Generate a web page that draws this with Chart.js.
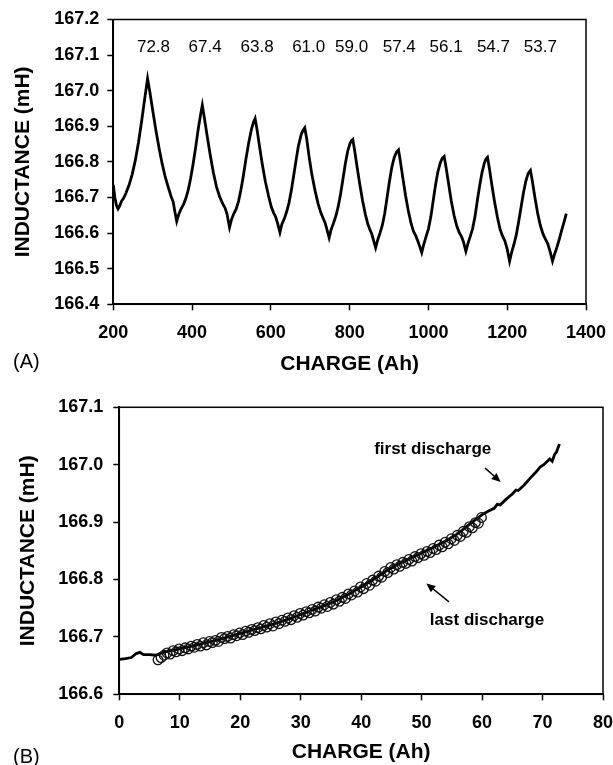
<!DOCTYPE html>
<html><head><meta charset="utf-8">
<script src="https://cdn.jsdelivr.net/npm/chart.js@4.4.0/dist/chart.umd.min.js"></script>
<style>
html,body{margin:0;padding:0;background:#fff;width:613px;height:765px;overflow:hidden}
canvas{position:absolute;left:0}
#c1{top:0}
#c2{top:390px}
.panel{position:absolute;left:13px;font:20px/20px "Liberation Sans",Arial,sans-serif;color:#000}
</style></head><body>
<canvas id="c1" width="613" height="390" style="width:613px;height:390px"></canvas>
<canvas id="c2" width="613" height="375" style="width:613px;height:375px"></canvas>
<div class="panel" style="top:351px">(A)</div>
<div class="panel" style="top:746px">(B)</div>
<script>
// ---------- Panel A data ----------
const topXTicks = [200, 400, 600, 800, 1000, 1200, 1400];
const topYTicks = [166.4, 166.5, 166.6, 166.7, 166.8, 166.9, 167.0, 167.1, 167.2];
const topTrace = [
  [200,166.735],[204,166.700],[208,166.678],[212,166.668],[216,166.676],[221,166.690],[226,166.698],[232,166.712],
  [240,166.735],[248,166.765],[256,166.805],[264,166.855],[272,166.915],[280,166.980],[287,167.034],
  [293,166.995],[300,166.945],[308,166.890],[316,166.840],[324,166.795],[332,166.757],[340,166.727],[347,166.702],
  [352,166.688],[356,166.662],[361,166.633],
  [366,166.652],[372,166.668],[378,166.680],[384,166.697],[390,166.720],[396,166.752],[402,166.790],[409,166.840],
  [416,166.895],[422,166.935],[426,166.959],
  [431,166.925],[438,166.875],[446,166.820],[454,166.770],[462,166.730],[470,166.702],[478,166.682],[484,166.670],
  [489,166.652],[495,166.616],
  [500,166.638],[506,166.655],[512,166.668],[518,166.690],[524,166.722],[530,166.760],[537,166.810],[544,166.855],
  [551,166.893],[556,166.912],[560,166.922],
  [565,166.890],[571,166.845],[578,166.795],[586,166.745],[594,166.705],[601,166.674],[607,166.657],[612,166.646],
  [617,166.628],[623,166.602],
  [628,166.625],[634,166.640],[640,166.660],[646,166.685],[652,166.720],[658,166.762],[664,166.805],[670,166.845],
  [677,166.877],[682,166.890],[686,166.896],
  [691,166.865],[697,166.815],[704,166.765],[712,166.720],[720,166.682],[727,166.657],[733,166.641],[738,166.628],
  [743,166.608],[748,166.587],
  [753,166.610],[759,166.628],[765,166.648],[771,166.675],[777,166.710],[783,166.752],[789,166.795],[795,166.830],
  [801,166.852],[805,166.860],[808,166.863],
  [813,166.830],[819,166.785],[826,166.735],[833,166.690],[840,166.652],[846,166.626],[851,166.611],[856,166.598],
  [861,166.578],[866,166.559],
  [871,166.580],[877,166.600],[883,166.622],[889,166.655],[895,166.700],[901,166.745],[907,166.785],[913,166.812],
  [919,166.828],[924,166.834],
  [929,166.800],[935,166.755],[942,166.705],[949,166.662],[956,166.627],[962,166.605],[968,166.592],[973,166.578],
  [978,166.562],[983,166.545],
  [988,166.568],[994,166.590],[1000,166.612],[1006,166.645],[1012,166.690],[1018,166.735],[1024,166.772],[1030,166.797],
  [1035,166.810],[1040,166.815],
  [1045,166.783],[1051,166.740],[1058,166.690],[1065,166.650],[1072,166.620],[1078,166.602],[1084,166.590],[1089,166.575],
  [1095,166.549],
  [1100,166.570],[1106,166.590],[1112,166.612],[1118,166.645],[1124,166.690],[1130,166.733],[1136,166.770],[1142,166.797],
  [1146,166.808],[1150,166.813],
  [1155,166.780],[1161,166.735],[1168,166.687],[1175,166.645],[1182,166.610],[1188,166.592],[1194,166.578],[1200,166.555],
  [1206,166.521],
  [1211,166.545],[1217,166.568],[1223,166.595],[1229,166.632],[1235,166.672],[1241,166.712],[1247,166.745],[1253,166.767],
  [1259,166.776],
  [1264,166.745],[1270,166.702],[1277,166.657],[1284,166.622],[1291,166.597],[1297,166.583],[1303,166.570],[1309,166.548],
  [1315,166.521],
  [1320,166.540],[1326,166.560],[1332,166.582],[1338,166.607],[1344,166.630],[1350,166.655]
];
const peakLabels = ['72.8', '67.4', '63.8', '61.0', '59.0', '57.4', '56.1', '54.7', '53.7'];
const peakLabelX = [302, 433, 565, 696, 805, 926, 1045, 1165, 1284];
const peakLabelY = 167.121;

// ---------- Panel B data ----------
const botXTicks = [0, 10, 20, 30, 40, 50, 60, 70, 80];
const botYTicks = [166.6, 166.7, 166.8, 166.9, 167.0, 167.1];
const firstDischarge = [
  [0,166.661],[1,166.662],[2,166.664],[2.8,166.671],[3.4,166.673],[4.0,166.669],[5.0,166.669],[6.0,166.668],
  [7.0,166.672],[8.0,166.675],[9.0,166.677],[10,166.679],[12,166.684],[14,166.689],[16,166.694],[18,166.700],
  [20,166.706],[22,166.712],[24,166.718],[26,166.724],[28,166.731],[30,166.739],[32,166.747],[34,166.755],
  [36,166.764],[38,166.775],[40,166.787],[42,166.800],[44,166.814],[46,166.826],[48,166.836],[50,166.846],
  [52,166.856],[54,166.867],[56,166.880],[58,166.897],[60,166.913],[61,166.919],[62,166.924],[62.5,166.931],
  [63,166.930],[64,166.940],[65,166.949],[65.6,166.956],[66,166.955],[67,166.965],[68,166.977],[69,166.988],
  [69.6,166.996],[70.2,167.000],[70.8,167.006],[71.2,167.010],[71.6,167.006],[72.0,167.018],[72.3,167.022],[72.8,167.036]
];
const lastDischarge = [
  [6.4,166.660],[6.9,166.664],[7.4,166.668],[7.9,166.672],[8.4,166.670],[8.9,166.676],[9.4,166.674],[9.9,166.679],
  [10.4,166.676],[10.9,166.681],[11.4,166.679],[11.9,166.684],[12.4,166.682],[12.9,166.687],[13.4,166.684],[13.9,166.690],
  [14.4,166.686],[14.9,166.692],[15.4,166.690],[15.9,166.694],[16.4,166.692],[16.9,166.699],[17.4,166.697],[17.9,166.701],
  [18.4,166.698],[18.9,166.704],[19.4,166.702],[19.9,166.707],[20.4,166.704],[20.9,166.710],[21.4,166.708],[21.9,166.713],
  [22.4,166.711],[22.9,166.716],[23.4,166.714],[23.9,166.720],[24.4,166.717],[24.9,166.723],[25.4,166.719],[25.9,166.726],
  [26.4,166.723],[26.9,166.729],[27.4,166.727],[27.9,166.733],[28.4,166.730],[28.9,166.737],[29.4,166.734],[29.9,166.741],
  [30.4,166.738],[30.9,166.744],[31.4,166.742],[31.9,166.748],[32.4,166.745],[32.9,166.752],[33.4,166.750],[33.9,166.756],
  [34.4,166.753],[34.9,166.760],[35.4,166.757],[35.9,166.765],[36.4,166.762],[36.9,166.769],[37.4,166.767],[37.9,166.775],
  [38.4,166.773],[38.9,166.780],[39.4,166.778],[39.9,166.787],[40.4,166.784],[40.9,166.793],[41.4,166.790],[41.9,166.799],
  [42.4,166.797],[42.9,166.806],[43.4,166.804],[43.9,166.814],[44.4,166.812],[44.9,166.821],[45.4,166.818],[45.9,166.826],
  [46.4,166.823],[46.9,166.830],[47.4,166.828],[47.9,166.835],[48.4,166.832],[48.9,166.840],[49.4,166.838],[49.9,166.845],
  [50.4,166.842],[50.9,166.849],[51.4,166.847],[51.9,166.854],[52.4,166.852],[52.9,166.860],[53.4,166.857],[53.9,166.865],
  [54.4,166.862],[54.9,166.871],[55.4,166.868],[55.9,166.877],[56.4,166.875],[56.9,166.884],[57.4,166.882],[57.9,166.892],
  [58.4,166.890],[58.9,166.899],[59.4,166.898],[59.9,166.908]
];
const noteTexts = ['first discharge', 'last discharge'];
const noteX = [51.84, 60.82];
const noteY = [167.027, 166.729];
const arrowFrom = [[60.5, 166.994], [54.53, 166.761]];
const arrowTo = [[63.07, 166.970], [50.78, 166.793]];

// ---------- rendering ----------
const FONT = '"Liberation Sans", Arial, Helvetica, sans-serif';
Chart.defaults.font.family = FONT;
Chart.defaults.color = '#000';

const toPts = arr => arr.map(p => ({x: p[0], y: p[1]}));

function makeScales(cfg) {
  return {
    x: {
      type: 'linear', min: cfg.xTicks[0], max: cfg.xTicks[cfg.xTicks.length - 1],
      afterBuildTicks: s => { s.ticks = cfg.xTicks.map(v => ({value: v})); },
      afterFit: s => { s.height = cfg.xHeight; s.paddingLeft = 0; s.paddingRight = 0; },
      border: {display: true, color: '#000', width: 2},
      grid: {display: true, drawOnChartArea: false, drawTicks: true, tickLength: 6, tickWidth: 1.5, tickColor: '#000', color: '#000'},
      ticks: {padding: 12, autoSkip: false, maxRotation: 0, color: '#000', font: {size: 18, weight: 'bold'}, callback: v => String(v)},
      title: {display: true, text: 'CHARGE (Ah)', color: '#000', font: {size: 21, weight: 'bold'}, padding: {top: 0, bottom: cfg.xTitlePad}}
    },
    y: {
      type: 'linear', min: cfg.yTicks[0], max: cfg.yTicks[cfg.yTicks.length - 1],
      afterBuildTicks: s => { s.ticks = cfg.yTicks.map(v => ({value: v})); },
      afterFit: s => { s.width = cfg.yWidth; s.paddingTop = 0; s.paddingBottom = 0; },
      border: {display: true, color: '#000', width: 2},
      grid: {display: true, drawOnChartArea: false, drawTicks: true, tickLength: 6, tickWidth: 1.5, tickColor: '#000', color: '#000'},
      ticks: {padding: cfg.yTickPad, autoSkip: false, color: '#000', font: {size: 18, weight: 'bold'}, callback: v => v.toFixed(1)},
      title: {display: true, text: 'INDUCTANCE (mH)', color: '#000', font: {size: 21, weight: 'bold'}, padding: {top: cfg.yTitlePad, bottom: 0}}
    }
  };
}

const framePlugin = {
  id: 'frame',
  afterDatasetsDraw(chart) {
    const {ctx, chartArea: a} = chart;
    ctx.save();
    ctx.strokeStyle = '#000';
    ctx.lineWidth = 1.5;
    ctx.strokeRect(a.left, a.top, a.right - a.left, a.bottom - a.top);
    ctx.restore();
  }
};

const peakLabelPlugin = {
  id: 'peakLabels',
  afterDatasetsDraw(chart) {
    const {ctx, scales: {x, y}} = chart;
    ctx.save();
    ctx.font = '17px ' + FONT;
    ctx.fillStyle = '#000';
    ctx.textAlign = 'center';
    ctx.textBaseline = 'middle';
    peakLabels.forEach((t, i) => ctx.fillText(t, x.getPixelForValue(peakLabelX[i]), y.getPixelForValue(peakLabelY)));
    ctx.restore();
  }
};

const notePlugin = {
  id: 'notes',
  afterDatasetsDraw(chart) {
    const {ctx, scales: {x, y}} = chart;
    ctx.save();
    ctx.font = 'bold 17px ' + FONT;
    ctx.fillStyle = '#000';
    ctx.textAlign = 'center';
    ctx.textBaseline = 'middle';
    noteTexts.forEach((t, i) => ctx.fillText(t, x.getPixelForValue(noteX[i]), y.getPixelForValue(noteY[i])));
    ctx.strokeStyle = '#000';
    ctx.lineWidth = 1.4;
    arrowFrom.forEach((f, i) => {
      const x1 = x.getPixelForValue(f[0]), y1 = y.getPixelForValue(f[1]);
      const x2 = x.getPixelForValue(arrowTo[i][0]), y2 = y.getPixelForValue(arrowTo[i][1]);
      const ang = Math.atan2(y2 - y1, x2 - x1);
      const L = 9, W = 4;
      ctx.beginPath();
      ctx.moveTo(x1, y1);
      ctx.lineTo(x2 - Math.cos(ang) * L * 0.6, y2 - Math.sin(ang) * L * 0.6);
      ctx.stroke();
      ctx.beginPath();
      ctx.moveTo(x2, y2);
      ctx.lineTo(x2 - L * Math.cos(ang) + W * Math.sin(ang), y2 - L * Math.sin(ang) - W * Math.cos(ang));
      ctx.lineTo(x2 - L * Math.cos(ang) - W * Math.sin(ang), y2 - L * Math.sin(ang) + W * Math.cos(ang));
      ctx.closePath();
      ctx.fill();
    });
    ctx.restore();
  }
};

const baseOpts = {
  responsive: false, animation: false, devicePixelRatio: 1,
  plugins: {legend: {display: false}, tooltip: {enabled: false}}
};

new Chart(document.getElementById('c1'), {
  type: 'scatter',
  data: {datasets: [{
    data: toPts(topTrace), showLine: true, borderColor: '#000', borderWidth: 2.8,
    pointRadius: 0, tension: 0, fill: false
  }]},
  options: Object.assign({}, baseOpts, {
    layout: {padding: {top: 19.5, right: 27, left: 0, bottom: 0}},
    scales: makeScales({xTicks: topXTicks, yTicks: topYTicks, xHeight: 85.7, yWidth: 113.3,
      yTickPad: 8, yTitlePad: 10.5, xTitlePad: 13.5})
  }),
  plugins: [framePlugin, peakLabelPlugin]
});

new Chart(document.getElementById('c2'), {
  type: 'scatter',
  data: {datasets: [
    {data: toPts(lastDischarge), showLine: false, pointStyle: 'circle', pointRadius: 4.8,
     borderColor: '#111', borderWidth: 1.3, backgroundColor: 'rgba(0,0,0,0)'},
    {data: toPts(firstDischarge), showLine: true, borderColor: '#000', borderWidth: 2.8,
     pointRadius: 0, tension: 0, fill: false}
  ]},
  options: Object.assign({}, baseOpts, {
    layout: {padding: {top: 17.3, right: 10, left: 0, bottom: 0}},
    scales: makeScales({xTicks: botXTicks, yTicks: botYTicks, xHeight: 70.7, yWidth: 119.3,
      yTickPad: 10, yTitlePad: 15.5, xTitlePad: 0})
  }),
  plugins: [framePlugin, notePlugin]
});
</script>
</body></html>
